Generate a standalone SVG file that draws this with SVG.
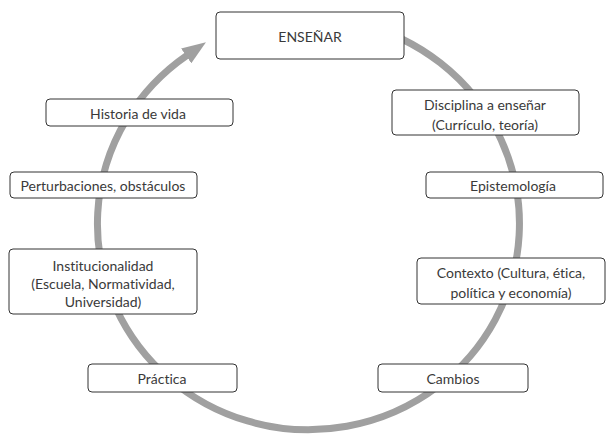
<svg xmlns="http://www.w3.org/2000/svg" width="609" height="434" viewBox="0 0 609 434">
<style>
.box{fill:#fff;stroke:#333;stroke-width:1}
.t{font-family:Lato,"Open Sans","Liberation Sans",sans-serif;font-size:14px;fill:#3a3a3a;text-anchor:middle;dominant-baseline:central;font-variant-ligatures:none}
.arc{fill:none;stroke:#a0a0a0;stroke-width:7}
</style>
<defs>
<marker id="ah" markerUnits="userSpaceOnUse" markerWidth="24" markerHeight="18" viewBox="0 0 24 18" refX="1" refY="9" orient="auto">
<path d="M0,0 L24,9 L0,18 z" fill="#a0a0a0"/>
</marker>
</defs>
<g id="connectors">
<path class="arc" d="M360,24 A211,206 0 1 1 187,55.3" marker-end="url(#ah)"/>
</g>
<g id="ensenar"><rect class="box" x="216" y="12" width="188" height="47" rx="4"/><text class="t" x="310" y="36" font-size="15">ENSEÑAR</text></g>
<g id="disciplina"><rect class="box" x="392" y="90" width="187" height="45" rx="4"/><text class="t" x="485" y="104">Disciplina a enseñar</text><text class="t" x="485" y="124">(Currículo, teoría)</text></g>
<g id="epistemologia"><rect class="box" x="426" y="172" width="177" height="26" rx="4"/><text class="t" x="513" y="185">Epistemología</text></g>
<g id="contexto"><rect class="box" x="417" y="258" width="188" height="46" rx="4"/><text class="t" x="511" y="272">Contexto (Cultura, ética,</text><text class="t" x="511" y="292">política y economía)</text></g>
<g id="cambios"><rect class="box" x="378" y="364" width="150" height="28" rx="4"/><text class="t" x="453" y="378">Cambios</text></g>
<g id="practica"><rect class="box" x="88" y="364" width="149" height="28" rx="4"/><text class="t" x="162" y="378">Práctica</text></g>
<g id="institucionalidad"><rect class="box" x="9" y="249" width="188" height="65" rx="4"/><text class="t" x="103" y="265">Institucionalidad</text><text class="t" x="103" y="283">(Escuela, Normatividad,</text><text class="t" x="103" y="301">Universidad)</text></g>
<g id="perturbaciones"><rect class="box" x="10" y="172" width="187" height="26" rx="4"/><text class="t" x="103" y="185">Perturbaciones, obstáculos</text></g>
<g id="historia"><rect class="box" x="46" y="99" width="187" height="27" rx="4"/><text class="t" x="138" y="113">Historia de vida</text></g>
</svg>
